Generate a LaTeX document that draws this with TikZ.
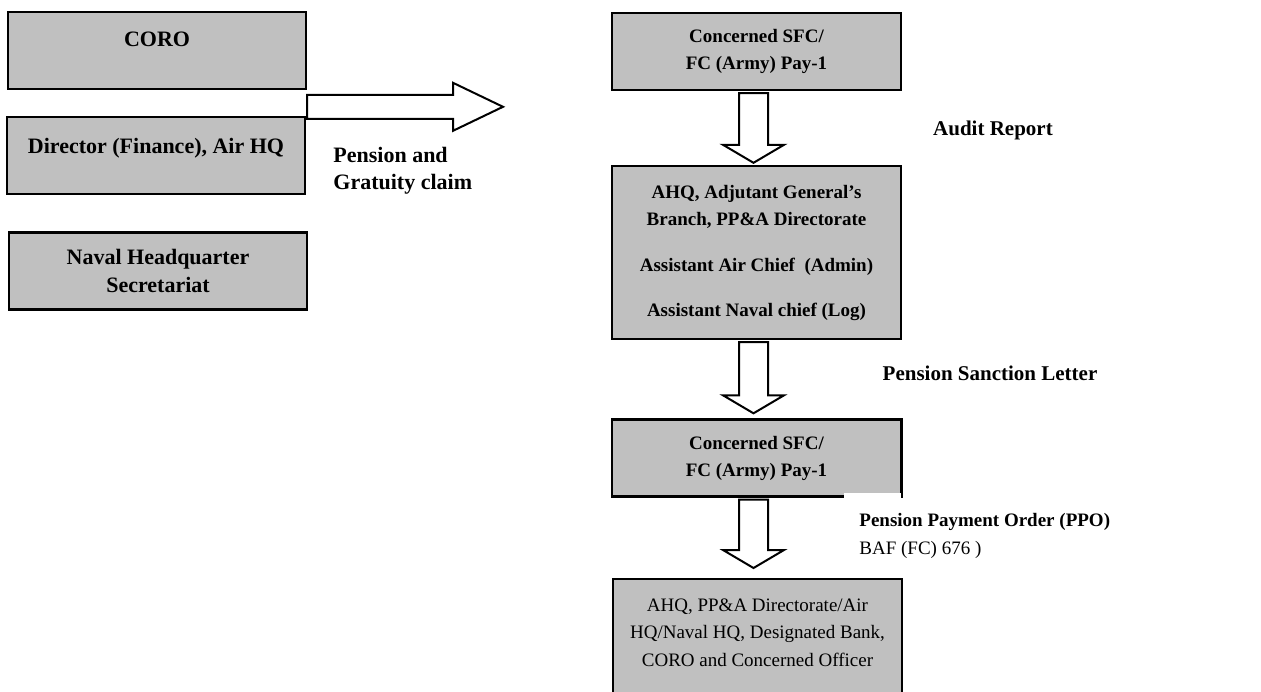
\documentclass[tikz,border=0pt]{standalone}
\usepackage{fontspec}
\setmainfont{Liberation Serif}
\usetikzlibrary{calc, positioning}
\definecolor{boxgray}{RGB}{192,192,192}
\tikzset{
    box/.style={rectangle, draw=black, line width=1.2pt, fill=boxgray, align=center, inner sep=0pt},
    leftbox/.style={box, minimum width=149pt, minimum height=38.5pt, font=\fontsize{11}{14}\selectfont\bfseries},
    rightbox/.style={box, minimum width=144.5pt, minimum height=38.5pt, font=\fontsize{9.5}{13.5}\selectfont\bfseries},
    flowlbl/.style={align=left, inner sep=0pt, font=\fontsize{10.5}{13.5}\selectfont\bfseries},
    blockarrow/.style={draw=black, line width=1pt, fill=white, line join=miter}
}
% hollow block arrow pointing down: start node, end node, gap before end node
\newcommand{\flowdown}[3]{%
    \draw[blockarrow] let \p1=($(#1.south)+(-3,2)$), \p2=($(#2.north)+(-3,-#3)$) in
        (\x1-7.25pt,\y1) -- (\x1+7.25pt,\y1) -- (\x1+7.25pt,\y2+9pt) -- (\x1+15.25pt,\y2+9pt)
        -- (\x1,\y2) -- (\x1-15.25pt,\y2+9pt) -- (\x1-7.25pt,\y2+9pt) -- cycle;}

\begin{document}
\begin{tikzpicture}[x=0.5pt, y=-0.5pt]
    \useasboundingbox (0,0) rectangle (1261,691);
    \clip (0,0) rectangle (1261,691);
    % left column
    \node[leftbox, text height=8pt, text depth=12.2pt] (coro) at (157,50.5) {CORO};
    \node[leftbox, text height=8pt, text depth=10.2pt] (dirfin) at (156,155.5) {Director (Finance), Air HQ};
    \node[leftbox] (navhq) at (158,271) {Naval Headquarter\\Secretariat};
    % right column
    \node[rightbox] (sfctop) at (756.5,51.5) {Concerned SFC/\\FC (Army) Pay-1};
    \node[rightbox, minimum height=86.5pt] (ahq) at (756.5,252.5)
        {AHQ, Adjutant General's\\Branch, PP\&A Directorate\\[9.5pt]Assistant Air Chief\ \ (Admin)\\[9pt]Assistant Naval chief (Log)};
    \node[rightbox] (sfcbot) at (756.5,458) {Concerned SFC/\\FC (Army) Pay-1};
    \node[rightbox, minimum height=70pt, anchor=north] (dist) at (757.5,578) {};
    \node[align=center, inner sep=0pt, font=\fontsize{9.5}{13.75}\selectfont] (distlbl) at ($(dist.north)+(0,54.5)$)
        {AHQ, PP\&A Directorate/Air\\HQ/Naval HQ, Designated Bank,\\CORO and Concerned Officer};
    % claim arrow
    \coordinate (claimtip) at (503,108);
    \draw[blockarrow] let \p1=($(dirfin.north east)+(1,-9)$), \p2=(claimtip) in
        (\x1,\y1+6pt) -- (\x2-25pt,\y1+6pt) -- (\x2-25pt,\y1+12pt) -- (\x2,\y1)
        -- (\x2-25pt,\y1-12pt) -- (\x2-25pt,\y1-6pt) -- (\x1,\y1-6pt) -- cycle;
    \node[flowlbl, anchor=west, font=\fontsize{11}{13.5}\selectfont\bfseries] (claim) at (333,170.5) {Pension and\\Gratuity claim};
    % downward flow
    \flowdown{sfctop}{ahq}{2}
    \flowdown{ahq}{sfcbot}{5}
    \flowdown{sfcbot}{dist}{10}
    \node[flowlbl] (audit) at (993,130) {Audit Report};
    \node[flowlbl] (sanction) at (990,373) {Pension Sanction Letter};
    \node[anchor=north west, fill=white, align=left, inner xsep=7.5pt, inner ysep=5pt,
        font=\fontsize{9.5}{14}\selectfont] (ppo) at (844,493)
        {\rule{0pt}{11.5pt}\textbf{Pension Payment Order (PPO)}\\BAF (FC) 676 )};
    \draw[line width=1.2pt] (sfcbot.north east) -- (sfcbot.south east);
\end{tikzpicture}
\end{document}
